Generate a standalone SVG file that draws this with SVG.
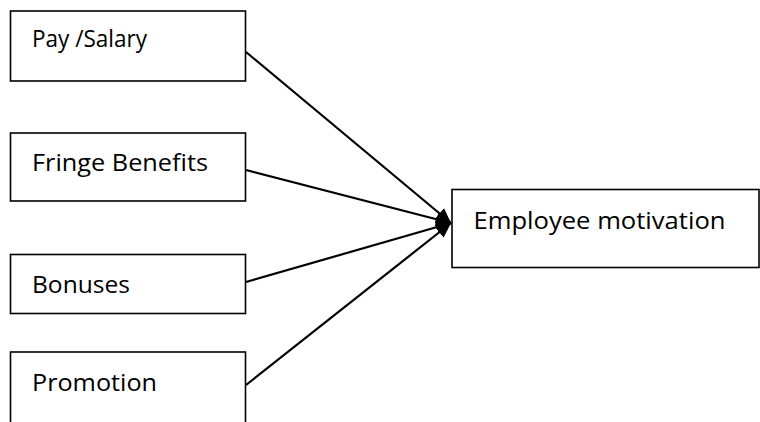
<svg xmlns="http://www.w3.org/2000/svg" width="760" height="422" viewBox="0 0 760 422">
  <style>
    .box { fill: #ffffff; stroke: #000000; stroke-width: 1.6; }
    .label { font-family: "Open Sans", "Liberation Sans", sans-serif; font-size: 24px; fill: #000000; }
    .link { stroke: #000000; stroke-width: 2.2; fill: none; marker-end: url(#head); }
  </style>
  <defs>
    <marker id="head" markerWidth="16" markerHeight="14" refX="15" refY="7" orient="auto" markerUnits="userSpaceOnUse">
      <path d="M0,0 L15,7 L0,14 Z" fill="#000000"/>
    </marker>
  </defs>
  <rect width="760" height="422" fill="#ffffff"/>

  <g id="pay-salary">
    <rect class="box" x="10.5" y="11" width="235" height="70"/>
    <text class="label" x="32" y="47" textLength="115" lengthAdjust="spacingAndGlyphs">Pay /Salary</text>
  </g>

  <g id="fringe-benefits">
    <rect class="box" x="10.5" y="133" width="235" height="68"/>
    <text class="label" x="32" y="171" textLength="176" lengthAdjust="spacingAndGlyphs">Fringe Benefits</text>
  </g>

  <g id="bonuses">
    <rect class="box" x="10.5" y="254.5" width="235" height="59"/>
    <text class="label" x="32" y="293" textLength="98" lengthAdjust="spacingAndGlyphs">Bonuses</text>
  </g>

  <g id="promotion">
    <rect class="box" x="10.5" y="352" width="235" height="80"/>
    <text class="label" x="32" y="390.5" textLength="125" lengthAdjust="spacingAndGlyphs">Promotion</text>
  </g>

  <g id="employee-motivation">
    <rect class="box" x="452" y="189.5" width="307" height="78"/>
    <text class="label" x="473.5" y="229" textLength="252" lengthAdjust="spacingAndGlyphs">Employee motivation</text>
  </g>

  <g id="connectors">
    <line class="link" x1="246" y1="52" x2="451" y2="223"/>
    <line class="link" x1="246" y1="170" x2="451" y2="223"/>
    <line class="link" x1="246" y1="282" x2="451" y2="223"/>
    <line class="link" x1="246" y1="385" x2="451" y2="223"/>
  </g>
</svg>
